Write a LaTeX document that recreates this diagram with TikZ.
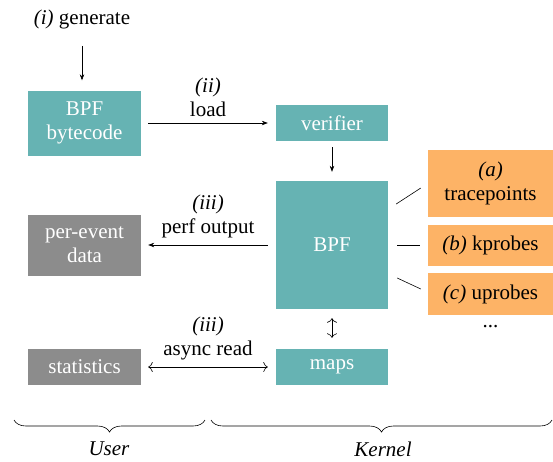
\documentclass[tikz,border=0pt]{standalone}
\usepackage{fontspec}
\setmainfont{Liberation Serif}
\usetikzlibrary{arrows.meta,decorations.pathreplacing}
\definecolor{bpfteal}{HTML}{66B3B3}
\definecolor{hookorange}{HTML}{FDB366}
\definecolor{usergray}{HTML}{8C8C8C}
\begin{document}
\begin{tikzpicture}[x=1pt,y=-1pt,
  font=\fontsize{21}{24}\selectfont,
  box/.style={inner sep=0pt, align=center, text=white},
  kbox/.style={box, fill=bpfteal},
  ubox/.style={box, fill=usergray},
  hbox/.style={inner sep=0pt, align=center, fill=hookorange, text=black,
    minimum width=125pt},
  arr/.style={-{Stealth[length=6pt,width=4.5pt]}, line width=0.6pt},
  dbl/.style={{To[length=4.5pt,width=10pt]}-{To[length=4.5pt,width=10pt]}, line width=0.6pt},
  hook/.style={line width=0.6pt},
  lbl/.style={align=center, inner sep=0pt},
  ubrace/.style={decorate, decoration={brace, mirror, amplitude=12pt}, line width=0.6pt}]
\useasboundingbox (0,0) rectangle (553,461);

% kernel side
\node[kbox, minimum width=113pt, minimum height=65pt] (bytecode) at (84.5,123) {BPF\\bytecode};
\node[kbox, minimum width=112pt, minimum height=36pt] (verifier) at (332,123) {verifier};
\node[kbox, minimum width=112pt, minimum height=128pt] (bpf) at (332,245) {BPF};
\node[kbox, minimum width=112pt, minimum height=36pt] (maps) at (332,367) {maps};

% hook points
\node[hbox, minimum height=67pt] (trace) at (490.5,183.5) {\textit{(a)}\\tracepoints};
\node[hbox, minimum height=41pt] (kprobes) at (490.5,245) {\textit{(b)} kprobes};
\node[hbox, minimum height=42pt] (uprobes) at (490.5,294) {\textit{(c)} uprobes};
\node[lbl] (more) at (490.5,327) {...};

% user side
\node[ubox, minimum width=113pt, minimum height=61pt] (perevent) at (84.5,245) {per-event\\data};
\node[ubox, minimum width=113pt, minimum height=36pt] (stats) at (84.5,367) {statistics};

% generation step
\node[lbl] (gen) at (82,19) {\textit{(i)} generate};
\draw[arr] ([yshift=-17pt]gen.south) -- ([xshift=-2.5pt,yshift=10pt]bytecode.north);

% load into the verifier
\draw[arr] ([xshift=7pt]bytecode.east) -- node[lbl, above=6pt] (loadlbl) {\textit{(ii)}\\load} ([xshift=-8pt]verifier.west);
\draw[arr] ([yshift=-6pt]verifier.south) -- ([yshift=9pt]bpf.north);

% output paths
\draw[arr] ([xshift=-8pt]bpf.west) -- node[lbl, above=7pt] (perflbl) {\textit{(iii)}\\perf output} ([xshift=7pt]perevent.east);
\draw[dbl] ([yshift=-9pt]bpf.south) -- ([yshift=11pt]maps.north);
\draw[dbl] ([xshift=7pt]stats.east) -- node[lbl, above=7pt] (asynclbl) {\textit{(iii)}\\async read} ([xshift=-8pt]maps.west);

% attachment to hook points
\draw[hook] ([shift={(8,-41)}]bpf.east) -- ([shift={(-7,4.5)}]trace.west);
\draw[hook] ([xshift=9pt]bpf.east) -- ([xshift=-8pt]kprobes.west);
\draw[hook] ([shift={(9,33)}]bpf.east) -- ([shift={(-7,-5)}]uprobes.west);

% user / kernel split
\coordinate (ul) at (14,420);
\coordinate (ur) at (205,420);
\coordinate (kl) at (211,420);
\coordinate (kr) at (552,420);
\draw[ubrace] (ul) -- (ur);
\draw[ubrace] (kl) -- (kr);
\node[lbl] (user) at (109,449) {\textit{User}};
\node[lbl] (kernel) at (383,449) {\textit{Kernel}};
\end{tikzpicture}
\end{document}
